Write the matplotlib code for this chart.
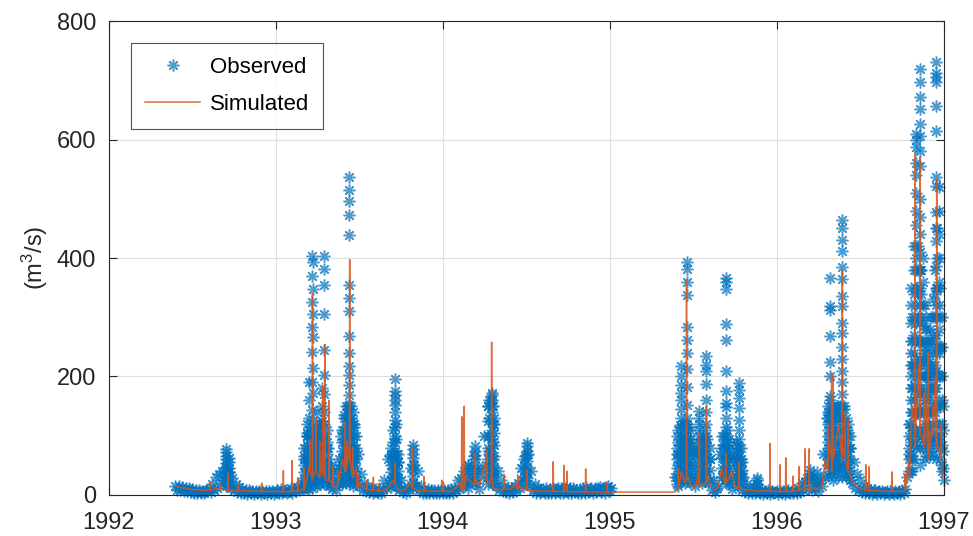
import numpy as np
import matplotlib
matplotlib.use('Agg')
import matplotlib.pyplot as plt

plt.rcParams['font.family'] = ['Liberation Sans', 'DejaVu Sans']
plt.rcParams['mathtext.default'] = 'regular'

# ---------------- data (decimal years, m3/s) ----------------
obs_step = 0.01
obs1_start = 1992.40
obs1_vals = [
    16, 9, 15, 8, 14, 7, 12, 6, 11, 5,
    10, 4, 9, 3, 8, 4, 7, 3, 6, 8,
    10, 5, 18, 8, 30, 12, 35, 20, 40, 25,
    45, 18, 38, 12, 28, 8, 18, 5, 13, 4,
    10, 3, 9, 2, 8, 3, 7, 2, 6, 3,
    6, 2, 7, 3, 6, 2, 6, 3, 7, 2,
    5, 8, 3, 10, 4, 6, 9, 3, 7, 12,
    4, 10, 6, 14, 8, 20, 10, 60, 20, 105,
    40, 115, 25, 90, 60, 100, 30, 120, 50, 95,
    20, 80, 15, 45, 10, 25, 8, 40, 20, 100,
    50, 135, 70, 150, 40, 130, 60, 115, 25, 70,
    15, 35, 8, 20, 6, 14, 5, 11, 4, 8,
    10, 3, 9, 4, 10, 25, 12, 60, 20, 70,
    30, 68, 15, 55, 8, 25, 5, 12, 4, 14,
    10, 45, 20, 50, 15, 40, 8, 15, 4, 9,
    3, 10, 4, 9, 3, 8, 4, 9, 3, 8,
    3, 9, 4, 8, 3, 10, 4, 12, 8, 25,
    10, 28, 15, 40, 20, 50, 25, 45, 30, 65,
    20, 40, 10, 45, 30, 100, 50, 150, 70, 160,
    40, 120, 15, 40, 8, 25, 6, 15, 5, 12,
    4, 11, 5, 15, 6, 20, 12, 45, 25, 65,
    30, 70, 15, 40, 8, 18, 4, 12, 3, 9,
    10, 3, 12, 4, 10, 3, 11, 4, 10, 12,
    4, 11, 3, 10, 14, 4, 11, 3, 12, 5,
    9, 3, 10, 4, 12, 4, 14, 5, 9, 11,
    4, 12, 5, 11, 14, 5, 12, 4, 13, 15,
    6, 12,
]
obs2_start = 1995.39
obs2_vals = [
    30, 70, 15, 118, 40, 95, 20, 120, 50, 90,
    25, 75, 15, 70, 30, 90, 20, 75, 40, 95,
    20, 60, 8, 25, 5, 12, 15, 70, 30, 85,
    40, 80, 20, 65, 10, 60, 25, 60, 15, 55,
    8, 30, 5, 18, 4, 12, 3, 11, 4, 18,
    12, 3, 8, 2, 7, 3, 8, 2, 7, 3,
    5, 7, 2, 6, 3, 7, 2, 6, 8, 3,
    7, 3, 9, 4, 12, 5, 20, 8, 22, 28,
    10, 30, 8, 28, 12, 20, 6, 25, 15, 70,
    30, 130, 50, 140, 35, 135, 60, 150, 40, 140,
    80, 150, 45, 110, 30, 80, 20, 55, 12, 35,
    8, 25, 5, 16, 4, 12, 3, 9, 2, 8,
    8, 2, 7, 3, 6, 2, 5, 6, 2, 6,
    5, 2, 6, 3, 6, 2, 8, 3, 10, 30,
    70, 120, 40, 220, 90, 350, 150, 380, 100, 250,
    60, 200, 120, 210, 80, 200, 150, 350, 90, 250,
    40, 25,
]

# flood-time observations (several readings at nearly the same date)
event_dates = [
    1992.700, 1992.720,
    1993.170, 1993.185, 1993.200, 1993.215, 1993.225, 1993.245, 1993.262,
    1993.278, 1993.291, 1993.305, 1993.380, 1993.400, 1993.420, 1993.441,
    1993.460, 1993.480, 1993.690, 1993.713, 1993.730, 1993.820,
    1994.150, 1994.193, 1994.270, 1994.293, 1994.310, 1994.485, 1994.503,
    1995.400, 1995.424, 1995.440, 1995.460, 1995.480, 1995.510, 1995.537,
    1995.560, 1995.579, 1995.600, 1995.675, 1995.695, 1995.715, 1995.755,
    1995.776, 1995.795, 1995.882,
    1996.200, 1996.240, 1996.305, 1996.319, 1996.340, 1996.365, 1996.393,
    1996.415, 1996.440,
    1996.790, 1996.805, 1996.820, 1996.834, 1996.858, 1996.875, 1996.895,
    1996.915, 1996.935, 1996.954, 1996.970, 1996.990, 1996.998,
]
event_vals = [
    [78, 72, 66, 60, 54, 48, 40, 32, 24, 16],
    [62, 55, 46, 38, 30, 22, 15],
    [80, 65, 50, 38, 28, 18, 10],
    [120, 100, 85, 70, 55, 42, 30, 20, 12],
    [190, 160, 130, 110, 95, 75, 60, 45, 32, 20, 10],
    [404, 369, 325, 284, 242, 190, 144, 101, 80, 60, 40, 25, 12],
    [393, 347, 305, 266, 215, 172, 127, 85, 70, 50, 35, 18],
    [140, 110, 90, 70, 55, 40, 28, 15],
    [120, 100, 80, 62, 45, 30, 18],
    [180, 150, 125, 100, 80, 60, 42, 25],
    [404, 381, 354, 305, 245, 203, 170, 140, 120, 100, 78, 55, 35, 18],
    [110, 90, 70, 50, 35, 20],
    [60, 45, 30, 18],
    [110, 90, 75, 60, 45, 30, 18],
    [150, 130, 115, 95, 80, 65, 50, 35, 20],
    [537, 514, 496, 472, 438, 355, 333, 311, 269, 239, 218, 203, 186, 169,
     152, 135, 118, 100, 80, 60, 40, 20],
    [140, 120, 100, 85, 70, 55, 40, 28, 15],
    [100, 80, 60, 45, 30, 18],
    [80, 65, 50, 38, 25, 14],
    [195, 175, 169, 160, 152, 140, 127, 115, 100, 90, 75, 60, 45, 30, 18],
    [70, 55, 40, 28, 15],
    [85, 78, 70, 62, 52, 42, 32, 22, 12],
    [50, 40, 30, 20, 12],
    [82, 75, 68, 60, 50, 40, 30, 20],
    [150, 125, 100, 80, 60, 45, 30, 18],
    [172, 168, 160, 150, 140, 125, 110, 95, 80, 65, 50, 35, 20],
    [130, 105, 85, 65, 48, 32, 18],
    [60, 50, 40, 30, 20],
    [88, 82, 75, 68, 58, 48, 38, 28, 18],
    [100, 80, 60, 45, 30, 18],
    [217, 200, 185, 172, 160, 145, 130, 115, 100, 85, 70, 55, 40, 25],
    [120, 100, 85, 70, 55, 40, 25],
    [393, 381, 360, 338, 283, 262, 239, 212, 183, 152, 130, 110, 90, 70, 50, 30],
    [110, 95, 80, 65, 50, 35, 20],
    [80, 65, 50, 38, 25],
    [141, 130, 120, 110, 100, 88, 75, 60, 45, 30],
    [100, 85, 70, 55, 40, 25],
    [234, 220, 210, 188, 160, 140, 120, 100, 85, 70, 55, 40, 25],
    [80, 60, 42, 25],
    [100, 80, 62, 45, 30],
    [367, 359, 347, 288, 261, 210, 175, 156, 149, 130, 115, 100, 85, 70, 55, 40, 25],
    [95, 78, 60, 45, 30, 18],
    [90, 75, 60, 45, 30],
    [189, 178, 164, 147, 127, 110, 95, 80, 65, 50, 35, 20],
    [55, 42, 30, 18],
    [29, 25, 18],
    [42, 35, 25],
    [38, 30, 20],
    [150, 130, 110, 90, 70, 50, 32],
    [367, 319, 313, 268, 224, 200, 167, 160, 140, 120, 100, 80, 60, 40],
    [140, 120, 100, 80, 60, 42, 25],
    [150, 130, 110, 90, 70, 50, 30],
    [464, 450, 431, 412, 384, 364, 336, 319, 290, 274, 250, 230, 210, 190,
     170, 150, 130, 110, 90, 70, 50, 30],
    [130, 110, 90, 70, 50, 32],
    [100, 80, 60, 42, 25],
    [120, 100, 80, 60, 40],
    [350, 320, 290, 260, 240, 220, 200, 180, 160, 140, 115, 90, 65, 40],
    [420, 380, 340, 300, 270, 240, 210, 185, 160, 135, 110, 85, 60],
    [609, 600, 587, 560, 540, 510, 480, 455, 420, 400, 380, 350, 320, 290,
     260, 230, 200, 170, 140, 110, 80],
    [719, 697, 671, 651, 626, 606, 581, 555, 500, 470, 440, 410, 380, 350,
     320, 290, 260, 230, 200, 170, 140, 110, 80, 50],
    [400, 360, 320, 290, 260, 230, 200, 170, 140, 110, 80],
    [300, 280, 260, 240, 220, 200, 180, 160, 140, 115, 90, 65],
    [280, 250, 220, 190, 165, 140, 115, 90, 65],
    [330, 300, 270, 240, 210, 180, 150, 120, 95, 70],
    [730, 713, 705, 697, 657, 615, 536, 522, 477, 451, 429, 386, 350, 320,
     300, 270, 240, 210, 180, 150, 120, 90, 60],
    [520, 480, 440, 400, 360, 320, 280, 240, 200, 160, 120, 80],
    [300, 250, 200, 160, 120, 85, 50],
    [150, 110, 75, 45],
]

# additional readings inside the flood periods
fill_dates = [
    1993.190, 1993.235, 1993.255, 1993.270, 1993.315, 1993.330,
    1993.410, 1993.430, 1993.450, 1993.470, 1993.700, 1993.720,
    1994.280, 1994.300,
    1995.410, 1995.450, 1995.470, 1995.550, 1995.570, 1995.685,
    1995.705, 1995.765, 1995.785,
    1996.310, 1996.330, 1996.350, 1996.380, 1996.400, 1996.425,
    1996.810, 1996.845, 1996.865, 1996.885, 1996.905, 1996.925,
    1996.945, 1996.962, 1996.980,
]
fill_vals = [
    [100, 80, 60, 40, 25], [110, 90, 70, 50, 30], [100, 75, 55, 35],
    [110, 85, 60, 40], [80, 60, 40, 25], [50, 35, 20],
    [130, 110, 90, 70, 50, 30], [145, 125, 105, 85, 65, 45, 25],
    [150, 130, 110, 90, 70, 50, 30], [120, 100, 80, 60, 40, 22],
    [110, 90, 70, 50, 30], [120, 95, 70, 50, 30],
    [160, 130, 100, 75, 50, 30], [150, 120, 90, 60, 35],
    [110, 90, 70, 50, 30], [120, 100, 80, 60, 40], [115, 95, 75, 55, 35],
    [95, 75, 55, 35], [110, 90, 70, 50, 30], [100, 80, 60, 40],
    [110, 90, 70, 50, 30], [85, 70, 55, 40, 25], [80, 60, 40, 25],
    [140, 120, 100, 80, 60], [150, 130, 110, 90, 70, 50],
    [145, 125, 105, 85, 65, 45], [150, 130, 110, 90, 70, 50],
    [145, 125, 105, 85, 65, 45], [120, 100, 80, 60, 40],
    [300, 260, 220, 180, 140, 100, 60],
    [420, 380, 340, 300, 260, 220, 180, 140, 100],
    [380, 340, 300, 260, 220, 180, 140, 100],
    [320, 280, 240, 200, 160, 120, 90],
    [260, 230, 200, 170, 140, 110, 80],
    [300, 260, 220, 180, 140, 100],
    [380, 340, 300, 260, 220, 180, 140, 100],
    [450, 400, 350, 300, 250, 200, 150, 100],
    [350, 300, 250, 200, 150, 100, 60],
]

sim_step = 0.02
sim1_start = 1992.40
sim1_vals = [
    15, 13, 12, 11, 10, 9.5, 9, 8.5, 8, 8,
    8, 9, 11, 10, 9, 8.5, 8, 8, 7.5, 7.5,
    7, 7, 7, 6.5, 6.5, 6.5, 6, 6, 6, 6,
    6, 6, 5.5, 5.5, 5.5, 6, 7, 6, 10, 20,
    45, 25, 60, 30, 70, 25, 55, 20, 12, 25,
    60, 40, 80, 30, 45, 20, 12, 10, 9, 8,
    8, 7.5, 7, 8, 15, 25, 12, 9, 8, 10,
    20, 12, 9, 8, 7.5, 7, 7, 6.5, 6.5, 6.5,
    6, 6, 6, 8, 12, 20, 15, 30, 25, 20,
    25, 15, 40, 60, 20, 12, 10, 9, 8, 9,
    10, 12, 20, 15, 10, 8, 7.5, 7, 7, 7,
    6.5, 6.5, 7, 6.5, 6, 6, 6, 6, 5.5, 5.5,
    5.5, 5.5, 5.5, 5, 5, 5, 5, 5, 5, 5,
    5,
]
sim2_start = 1995.39
sim2_vals = [
    5, 15, 40, 20, 30, 15, 12, 35, 15, 20,
    30, 12, 8, 15, 45, 20, 25, 40, 15, 10,
    10, 9, 8, 8, 7.5, 7, 7, 7, 6.5, 6.5,
    6, 6, 6, 6, 6, 6, 7, 8, 10, 9,
    8, 10, 12, 9, 10, 60, 100, 40, 80, 120,
    60, 100, 40, 25, 15, 12, 10, 9, 8, 7.5,
    7, 7, 6.5, 6.5, 6, 6, 6, 6, 6, 15,
    60, 150, 80, 220, 100, 180, 60, 120, 200, 80,
    30,
]

# short simulated peaks: date, peak value, value just before/after
spike_dates = [
    1992.608, 1992.672, 1992.716, 1992.776, 1992.916, 1993.046, 1993.098,
    1993.132, 1993.169, 1993.205, 1993.220, 1993.241, 1993.265, 1993.283,
    1993.295, 1993.319, 1993.343, 1993.373, 1993.416, 1993.427, 1993.443,
    1993.461, 1993.491, 1993.545, 1993.585, 1993.620, 1993.714, 1993.820,
    1993.888, 1993.994, 1994.004, 1994.114, 1994.129, 1994.193, 1994.263,
    1994.293, 1994.367, 1994.449, 1994.503, 1994.662, 1994.726, 1994.745,
    1994.856, 1994.982,
    1995.411, 1995.460, 1995.537, 1995.579, 1995.695, 1995.774, 1995.960,
    1996.020, 1996.054, 1996.099, 1996.135, 1996.169, 1996.195, 1996.307,
    1996.329, 1996.337, 1996.393, 1996.409, 1996.427, 1996.533, 1996.554,
    1996.689, 1996.769, 1996.793, 1996.829, 1996.859, 1996.883, 1996.908,
    1996.936, 1996.958, 1996.984,
]
spike_peaks = [
    21, 17, 37, 17, 20, 41, 58,
    29, 46, 93, 340, 130, 90, 183,
    254, 160, 48, 40, 122, 90, 397,
    80, 35, 25, 30, 20, 54, 80,
    31, 25, 22, 132, 150, 70, 76,
    258, 35, 34, 42, 56, 50, 40,
    44, 21,
    46, 364, 105, 149, 71, 56, 87,
    51, 63, 32, 48, 78, 78, 120,
    206, 200, 381, 140, 127, 51, 48,
    39, 35, 60, 578, 570, 170, 240,
    150, 533, 120,
]
spike_feet = [
    8, 10, 9, 7.5, 6.5, 6, 6,
    7, 8, 40, 30, 40, 30, 35,
    30, 25, 15, 20, 40, 50, 60,
    30, 12, 9, 8, 7.5, 20, 12,
    7, 6, 6, 8, 10, 18, 20,
    30, 12, 10, 12, 6.5, 6.5, 6,
    5.5, 5,
    10, 25, 15, 20, 20, 15, 6.5,
    6, 6, 6, 8, 10, 8, 40,
    60, 60, 80, 60, 40, 7.5, 7,
    6, 8, 30, 100, 100, 80, 60,
    100, 80, 60,
]

x_ticks = [1992, 1993, 1994, 1995, 1996, 1997]
y_ticks = [0, 200, 400, 600, 800]

# ---------------- assemble ----------------
def stack(dates, groups):
    t = np.concatenate([[d] * len(v) for d, v in zip(dates, groups)])
    v = np.concatenate([np.asarray(g, float) for g in groups])
    return t, v

ev_t, ev_v = stack(event_dates, event_vals)
fl_t, fl_v = stack(fill_dates, fill_vals)
obs_t = np.concatenate([
    obs1_start + obs_step * np.arange(len(obs1_vals)),
    obs2_start + obs_step * np.arange(len(obs2_vals)),
    ev_t, fl_t,
])
obs_v = np.concatenate([obs1_vals, obs2_vals, ev_v, fl_v])

half_w = 0.0015
sim_t = np.concatenate([
    sim1_start + sim_step * np.arange(len(sim1_vals)),
    sim2_start + sim_step * np.arange(len(sim2_vals)),
    np.asarray(spike_dates) - half_w,
    np.asarray(spike_dates),
    np.asarray(spike_dates) + half_w,
])
sim_v = np.concatenate([sim1_vals, sim2_vals, spike_feet, spike_peaks, spike_feet])
order = np.argsort(sim_t, kind='stable')
sim_t, sim_v = sim_t[order], sim_v[order]

# ---------------- plot ----------------
fig = plt.figure(figsize=(9.73, 5.36), dpi=100)
ax = fig.add_axes([0.1117, 0.0765, 0.9699 - 0.1117, 0.9608 - 0.0765])

ax.plot(obs_t, obs_v, linestyle='none', marker=(8, 2, 0), ms=8.5, mew=1.1,
        color='#0072BD', alpha=0.7, clip_on=False, label='Observed', zorder=2)
ax.plot(sim_t, sim_v, color='#D95319', lw=1.1, alpha=0.85,
        label='Simulated', zorder=3)

ax.set_xlim(1992, 1997)
ax.set_ylim(0, 800)
ax.set_xticks(x_ticks)
ax.set_xticklabels([str(t) for t in x_ticks])
ax.set_yticks(y_ticks)
ax.set_ylabel('(m$^{3}$/s)', fontsize=17, color='#262626', labelpad=5)

ax.grid(True, color='#dedede', lw=0.8)
ax.set_axisbelow(True)
for s in ax.spines.values():
    s.set_color('#262626')
    s.set_linewidth(0.8)
ax.tick_params(direction='in', length=5.5, width=0.8, top=True, right=True,
               labelsize=17, colors='#262626')
ax.tick_params(axis='x', pad=12)
ax.tick_params(axis='y', pad=9)

leg = ax.legend(loc='upper left', bbox_to_anchor=(131 / 973, 1 - 43 / 536),
                bbox_transform=fig.transFigure, borderaxespad=0,
                fontsize=16, frameon=True, fancybox=False, numpoints=1,
                handlelength=2.5, handletextpad=0.45, labelspacing=0.72,
                borderpad=0.62)
leg.get_frame().set_edgecolor('#262626')
leg.get_frame().set_linewidth(0.8)
for t in leg.get_texts():
    t.set_color('#000000')

fig.savefig('out.png', dpi=100)
